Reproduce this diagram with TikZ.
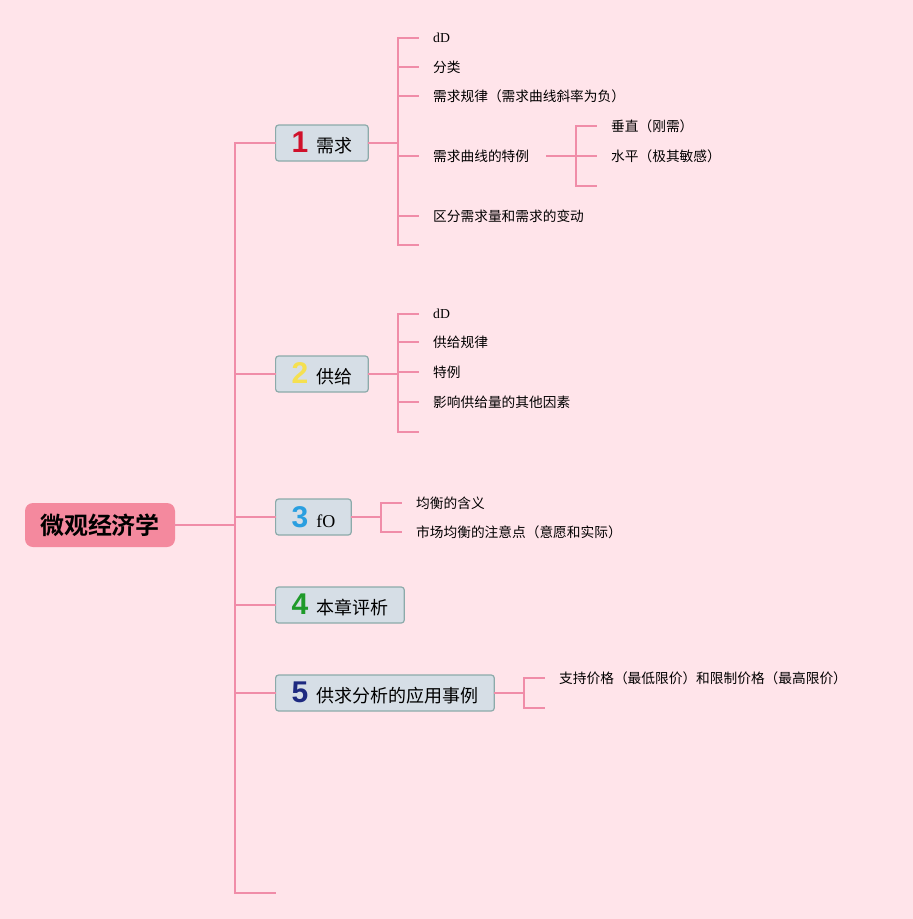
\documentclass[tikz,border=0pt]{standalone}
\usepackage{fontspec}
\setmainfont{Liberation Serif}
\newfontfamily\cjk{Noto Sans CJK SC}[BoldFont={Noto Sans CJK SC Bold}]
\newfontfamily\digitfont{Liberation Sans}
\definecolor{bgc}{RGB}{255,228,234}
\definecolor{linkc}{RGB}{240,140,168}
\definecolor{rootfill}{RGB}{244,137,158}
\definecolor{boxfill}{RGB}{214,222,230}
\definecolor{boxborder}{RGB}{140,170,170}
\definecolor{cone}{RGB}{208,17,43}
\definecolor{ctwo}{RGB}{245,224,80}
\definecolor{cthree}{RGB}{42,159,224}
\definecolor{cfour}{RGB}{31,154,42}
\definecolor{cfive}{RGB}{30,42,128}
\newcommand{\numdig}[2]{{\digitfont\bfseries\fontsize{30}{30}\selectfont\color{#1}#2}\hspace{8pt}}
\begin{document}
\begin{tikzpicture}[x=1pt,y=-1pt,
  conn/.style={draw=linkc,line width=2pt,line cap=rect},
  rootbox/.style={fill=rootfill,rounded corners=8pt,minimum width=150pt,minimum height=44pt,inner sep=0pt,font=\cjk\bfseries\fontsize{24}{26}\selectfont},
  topic/.style={draw=boxborder,fill=boxfill,line width=1.2pt,rounded corners=3pt,minimum height=36pt,inner xsep=16pt,inner ysep=0pt,anchor=west,font=\cjk\fontsize{18}{20}\selectfont},
  leaf/.style={anchor=west,inner sep=0pt,font=\cjk\fontsize{13.7}{16}\selectfont}]
\fill[bgc] (0,0) rectangle (913,919);
\useasboundingbox (0,0) rectangle (913,919);

% root and spine
\node[rootbox] (root) at (100,525) {微观经济学};
\coordinate (sr) at (235,525);
\coordinate (s1) at (235,143);
\coordinate (s2) at (235,374);
\coordinate (s3) at (235,517);
\coordinate (s4) at (235,605);
\coordinate (s5) at (235,693);
\coordinate (s6) at (235,893);
\coordinate (e6) at (275,893);
\draw[conn] (root.east) -- (sr);
\draw[conn] (s1) -- (s6) -- (e6);

% topics
\node[topic] (t1) at (275,143) {\numdig{cone}{1}需求};
\node[topic] (t2) at (275,374) {\numdig{ctwo}{2}供给};
\node[topic] (t3) at (275,517) {\numdig{cthree}{3}{\rmfamily fO}};
\node[topic] (t4) at (275,605) {\numdig{cfour}{4}本章评析};
\node[topic] (t5) at (275,693) {\numdig{cfive}{5}供求分析的应用事例};
\foreach \i in {1,...,5} {\draw[conn] (s\i) -- (t\i.west);}

% topic 1 children
\coordinate (j1) at (398,143);
\draw[conn] (t1.east) -- (j1);
\foreach \y [count=\i] in {38,67,96,156,216,245} {
  \coordinate (a1\i) at (398,\y);
  \coordinate (b1\i) at (418,\y);
  \draw[conn] (a1\i) -- (b1\i);
}
\draw[conn] (a11) -- (a16);
\node[leaf] (l11) at (433,38) {\rmfamily dD};
\node[leaf] (l12) at (433,67) {分类};
\node[leaf] (l13) at (433,96) {需求规律（需求曲线斜率为负）};
\node[leaf] (l14) at (433,156) {需求曲线的特例};
\node[leaf] (l15) at (433,216) {区分需求量和需求的变动};

% sub of l14
\coordinate (k1) at (547,156);
\coordinate (k2) at (576,156);
\draw[conn] (k1) -- (k2);
\foreach \y [count=\i] in {126,156,186} {
  \coordinate (c\i) at (576,\y);
  \coordinate (d\i) at (596,\y);
  \draw[conn] (c\i) -- (d\i);
}
\draw[conn] (c1) -- (c3);
\node[leaf] (m1) at (611,126) {垂直（刚需）};
\node[leaf] (m2) at (611,156) {水平（极其敏感）};

% topic 2 children
\coordinate (j2) at (398,374);
\draw[conn] (t2.east) -- (j2);
\foreach \y [count=\i] in {314,342,372,402,432} {
  \coordinate (a2\i) at (398,\y);
  \coordinate (b2\i) at (418,\y);
  \draw[conn] (a2\i) -- (b2\i);
}
\draw[conn] (a21) -- (a25);
\node[leaf] (l21) at (433,314) {\rmfamily dD};
\node[leaf] (l22) at (433,342) {供给规律};
\node[leaf] (l23) at (433,372) {特例};
\node[leaf] (l24) at (433,402) {影响供给量的其他因素};

% topic 3 children
\coordinate (j3) at (381,517);
\draw[conn] (t3.east) -- (j3);
\foreach \y [count=\i] in {503,532} {
  \coordinate (a3\i) at (381,\y);
  \coordinate (b3\i) at (401,\y);
  \draw[conn] (a3\i) -- (b3\i);
}
\draw[conn] (a31) -- (a32);
\node[leaf] (l31) at (416,503) {均衡的含义};
\node[leaf] (l32) at (416,532) {市场均衡的注意点（意愿和实际）};

% topic 5 children
\coordinate (j5) at (524,693);
\draw[conn] (t5.east) -- (j5);
\foreach \y [count=\i] in {678,708} {
  \coordinate (a5\i) at (524,\y);
  \coordinate (b5\i) at (544,\y);
  \draw[conn] (a5\i) -- (b5\i);
}
\draw[conn] (a51) -- (a52);
\node[leaf] (l51) at (559,678) {支持价格（最低限价）和限制价格（最高限价）};
\end{tikzpicture}
\end{document}
